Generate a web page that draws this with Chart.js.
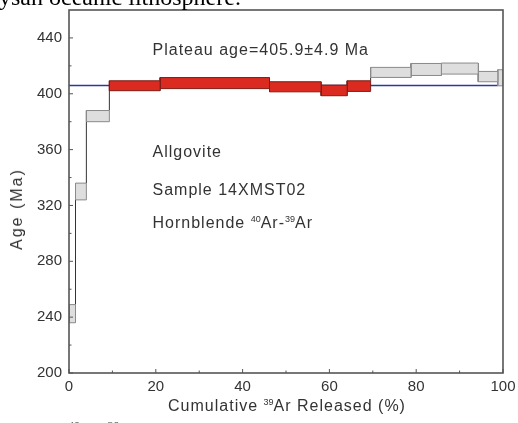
<!DOCTYPE html>
<html><head><meta charset="utf-8">
<script src="https://cdn.jsdelivr.net/npm/chart.js@4/dist/chart.umd.min.js"></script>
<style>
html,body{margin:0;padding:0;background:#fff;overflow:hidden;width:518px;height:423px;}
#wrap{position:relative;width:518px;height:423px;overflow:hidden;}
#c{position:absolute;left:0;top:0;}
.t{position:absolute;font-family:"Liberation Sans",Arial,sans-serif;color:#333;white-space:nowrap;font-size:16px;line-height:16px;letter-spacing:1px;}
.t sup{font-size:9px;vertical-align:baseline;position:relative;top:-6px;letter-spacing:0;line-height:0;}
.doc{position:absolute;font-family:"Liberation Serif","Times New Roman",serif;color:#000;white-space:nowrap;font-size:24px;line-height:24px;}
.doc sup{font-size:12px;vertical-align:baseline;position:relative;top:-10px;line-height:0;}
</style></head>
<body>
<div id="wrap">
<canvas id="c" width="540" height="423"></canvas>
<div class="doc" style="left:-1px;top:-14.6px;">ysan oceanic lithosphere.</div>
<div class="doc" style="left:68px;top:421px;font-size:20px;color:#444;"><sup>40</sup>Ar-<sup>39</sup>Ar</div>
<div class="t" style="left:152.5px;top:41.5px;">Plateau age=405.9±4.9 Ma</div>
<div class="t" style="left:152.5px;top:144px;">Allgovite</div>
<div class="t" style="left:152.5px;top:181.5px;">Sample 14XMST02</div>
<div class="t" style="left:152.5px;top:215px;">Hornblende <sup>40</sup>Ar-<sup>39</sup>Ar</div>
<div class="t" style="left:287px;top:397.5px;transform:translateX(-50%);">Cumulative <sup>39</sup>Ar Released (%)</div>
<div class="t" style="left:17px;top:209px;letter-spacing:2px;transform:translate(-50%,-50%) rotate(-90deg);">Age (Ma)</div>
</div>
<script>
// Step boundaries (cumulative 39Ar released, %) and apparent ages (Ma) per heating step
const cumRelease = [0, 1.5, 4.0, 9.3, 21.0, 46.2, 58.1, 64.1, 69.5, 78.8, 85.8, 94.3, 98.8, 100];
const ageMin = [236, 324, 380, 402.2, 403.7, 401.4, 398.6, 401.7, 411.7, 413.1, 414.1, 408.6, 405.7];
const ageMax = [249, 336, 388, 409.3, 411.6, 408.6, 406.2, 409.3, 418.9, 421.7, 422.0, 416.0, 417.2];
const inPlateau = [false, false, false, true, true, true, true, true, false, false, false, false, false];
const plateauAge = 405.9;
const plateauSpan = [0, 98.8];
const xTickValues = [0, 20, 40, 60, 80, 100];
const xMinorValues = [10, 30, 50, 70, 90];
const yTickValues = [200, 240, 280, 320, 360, 400, 440];
const yMinorValues = [220, 260, 300, 340, 380, 420];

const datasets = [];
for (let i = 0; i < ageMin.length; i++) {
  const x0 = cumRelease[i], x1 = cumRelease[i + 1];
  datasets.push({
    type: 'line',
    data: [{x: x0, y: ageMin[i]}, {x: x1, y: ageMin[i]}, {x: x1, y: ageMax[i]}, {x: x0, y: ageMax[i]}, {x: x0, y: ageMin[i]}],
    borderColor: inPlateau[i] ? '#7d1c16' : '#8a8a8a',
    backgroundColor: inPlateau[i] ? '#db2a1f' : '#dedede',
    borderWidth: 1,
    fill: 'shape',
    pointRadius: 0,
    tension: 0,
    borderJoinStyle: 'miter'
  });
}
// connectors between successive steps
const conn = [];
for (let i = 1; i < ageMin.length; i++) {
  const c = cumRelease[i];
  let a, b;
  if (ageMin[i] >= ageMax[i - 1]) { a = ageMax[i - 1]; b = ageMin[i]; }
  else if (ageMax[i] <= ageMin[i - 1]) { a = ageMin[i - 1]; b = ageMax[i]; }
  else { a = Math.min(ageMin[i], ageMin[i - 1]); b = Math.max(ageMax[i], ageMax[i - 1]); }
  conn.push({x: c, y: a}, {x: c, y: b}, {x: c, y: null});
}
datasets.push({type: 'line', data: conn, borderColor: '#333', borderWidth: 1, pointRadius: 0, spanGaps: false, fill: false});
datasets.push({type: 'line', data: [{x: plateauSpan[0], y: plateauAge}, {x: plateauSpan[1], y: plateauAge}],
  borderColor: '#2a3a9c', borderWidth: 1.5, pointRadius: 0, fill: false});

const frameAndTicks = {
  id: 'frameAndTicks',
  afterDatasetsDraw(chart) {
    const {ctx, chartArea: a, scales: {x, y}} = chart;
    ctx.save();
    ctx.strokeStyle = '#555';
    ctx.lineWidth = 1;
    ctx.beginPath();
    xTickValues.forEach(v => { const p = x.getPixelForValue(v); ctx.moveTo(p, a.bottom); ctx.lineTo(p, a.bottom - 4); });
    xMinorValues.forEach(v => { const p = x.getPixelForValue(v); ctx.moveTo(p, a.bottom); ctx.lineTo(p, a.bottom - 2.5); });
    yTickValues.forEach(v => { const p = y.getPixelForValue(v); ctx.moveTo(a.left, p); ctx.lineTo(a.left + 4, p); });
    yMinorValues.forEach(v => { const p = y.getPixelForValue(v); ctx.moveTo(a.left, p); ctx.lineTo(a.left + 2.5, p); });
    ctx.stroke();
    ctx.lineWidth = 1.6;
    ctx.strokeRect(a.left, a.top, a.right - a.left, a.bottom - a.top);
    ctx.restore();
  }
};

new Chart(document.getElementById('c'), {
  type: 'scatter',
  data: {datasets},
  options: {
    responsive: false,
    animation: false,
    layout: {padding: {left: 0, right: 37, top: 10, bottom: 0}},
    plugins: {legend: {display: false}, tooltip: {enabled: false}},
    scales: {
      x: {
        type: 'linear', min: 0, max: 100,
        afterBuildTicks: s => { s.ticks = xTickValues.map(v => ({value: v})); },
        afterFit: s => { s.height = 50; s.paddingLeft = 0; s.paddingRight = 0; },
        grid: {display: false, drawTicks: false},
        border: {display: false},
        ticks: {padding: 5, color: '#333', font: {family: '"Liberation Sans", Arial, sans-serif', size: 15}, maxRotation: 0, autoSkip: false}
      },
      y: {
        type: 'linear', min: 200, max: 460,
        afterBuildTicks: s => { s.ticks = yTickValues.map(v => ({value: v})); },
        afterFit: s => { s.width = 69; s.paddingTop = 0; s.paddingBottom = 0; },
        grid: {display: false, drawTicks: false},
        border: {display: false},
        ticks: {padding: 7, color: '#333', font: {family: '"Liberation Sans", Arial, sans-serif', size: 15}, autoSkip: false}
      }
    }
  },
  plugins: [frameAndTicks]
});
</script>
</body></html>
